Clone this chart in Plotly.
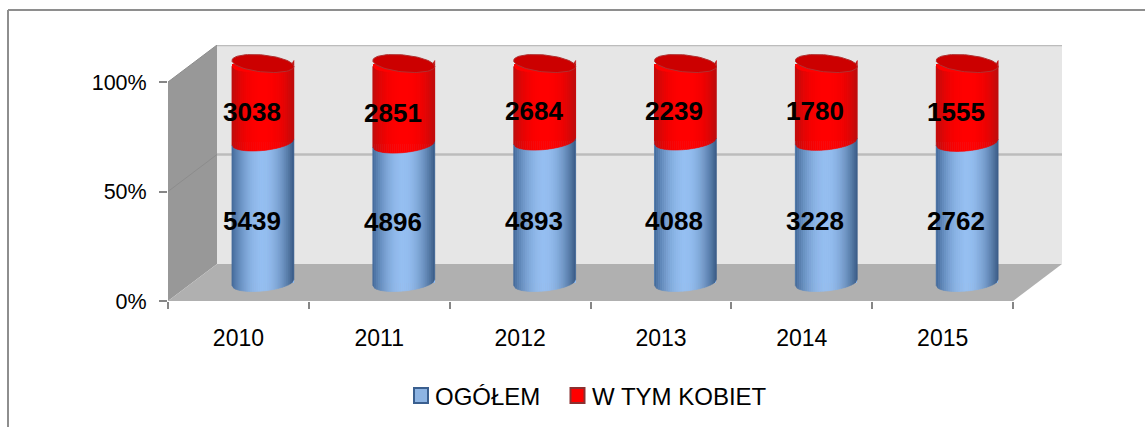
import numpy as np
import plotly.graph_objects as go

# ---- data ----
years = ["2010", "2011", "2012", "2013", "2014", "2015"]
ogolem = [5439, 4896, 4893, 4088, 3228, 2762]
kobiet = [3038, 2851, 2684, 2239, 1780, 1555]
y_ticks = [0, 50, 100]
series_names = ["OGÓŁEM", "W TYM KOBIET"]

# ---- pixel geometry of the plot box ----
W, H = 1145, 427
L, R, T, B = 168, 1062, 45, 301
PX_PER_CAT = 140.85
PX_PER_PCT = 2.19
DEPTH_PX_X, DEPTH_PX_Y = 49, 37
CYL_A = 31
CYL_B = 8.5
CYL_TILT = 3
FONT = "Liberation Sans"

x_span = (R - L) / PX_PER_CAT
y_span = (B - T) / PX_PER_PCT
xr = [-0.5, -0.5 + x_span]
yr = [0, y_span]
dx = DEPTH_PX_X / PX_PER_CAT
dy = DEPTH_PX_Y / PX_PER_PCT
x_end = len(years) - 0.5


def px(v):
    return (v - L) / (R - L)


def py(v):
    return (B - v) / (B - T)


def mix(c1, c2, t):
    return "rgb(%d,%d,%d)" % tuple(round(a + (b - a) * t) for a, b in zip(c1, c2))


def edge(u, sign=1):
    """vertical offset (in % units) of the ellipse rim at u in [-1, 1]"""
    return (-sign * CYL_B * np.sqrt(max(0.0, 1 - u * u)) + CYL_TILT * u) / PX_PER_PCT


fig = go.Figure()

# real stacked bars (covered by the shaded cylinders)
cats = list(range(len(years)))
fig.add_bar(x=cats, y=ogolem, name=series_names[0], xaxis="x2", yaxis="y2",
            width=2 * CYL_A / PX_PER_CAT, marker=dict(color="#94bdee", line=dict(width=0)),
            showlegend=False, hoverinfo="skip")
fig.add_bar(x=cats, y=kobiet, name=series_names[1], xaxis="x2", yaxis="y2",
            width=2 * CYL_A / PX_PER_CAT, marker=dict(color="#ff0000", line=dict(width=0)),
            showlegend=False, hoverinfo="skip")

totals = [a + b for a, b in zip(ogolem, kobiet)]
pct_blue = [100 * a / t for a, t in zip(ogolem, totals)]

N = 31
u_edges = np.linspace(-1, 1, N + 1)


def shade_blue(u):
    t = abs(u) ** 1.9
    return mix((150, 191, 241), (56, 90, 132) if u > 0 else (66, 104, 152), t)


def shade_red(u):
    t = abs(u) ** 2.6
    return mix((255, 0, 0), (186, 14, 14), t)


def add_bands(lows, highs, shader):
    for k in range(N):
        u0, u1 = u_edges[k], u_edges[k + 1]
        xs, ys = [], []
        for c, lo, hi in zip(cats, lows, highs):
            ca = c + u0 * CYL_A / PX_PER_CAT
            cb = c + u1 * CYL_A / PX_PER_CAT
            xs += [ca, cb, cb, ca, ca, None]
            ys += [hi + edge(u0), hi + edge(u1), lo + edge(u1), lo + edge(u0), hi + edge(u0), None]
        col = shader((u0 + u1) / 2)
        fig.add_trace(go.Scatter(x=xs, y=ys, mode="lines", fill="toself", fillcolor=col,
                                 line=dict(color=col, width=0.6), xaxis="x2", yaxis="y2",
                                 showlegend=False, hoverinfo="skip"))


add_bands([0] * len(cats), pct_blue, shade_blue)
add_bands(pct_blue, [100] * len(cats), shade_red)

# top caps of the cylinders
us = np.linspace(0, 2 * np.pi, 73)
cap_x, cap_y = [], []
for c in cats:
    for a in us:
        u = np.cos(a)
        cap_x.append(c + u * CYL_A / PX_PER_CAT)
        cap_y.append(100 + (CYL_B * np.sin(a) - CYL_TILT * u) / PX_PER_PCT)
    cap_x.append(None)
    cap_y.append(None)
fig.add_trace(go.Scatter(x=cap_x, y=cap_y, mode="lines", fill="toself", fillcolor="#cc0000",
                         line=dict(color="#b03030", width=1), xaxis="x2", yaxis="y2",
                         showlegend=False, hoverinfo="skip"))

# walls / floor
shapes = [
    dict(type="path", xref="x", yref="y", layer="below", line=dict(width=0), fillcolor="#e6e6e6",
         path=f"M{-0.5+dx},{dy} L{x_end+dx},{dy} L{x_end+dx},{100+dy} L{-0.5+dx},{100+dy} Z"),
    dict(type="path", xref="x", yref="y", layer="below", line=dict(width=0), fillcolor="#989898",
         path=f"M-0.5,0 L{-0.5+dx},{dy} L{-0.5+dx},{100+dy} L-0.5,100 Z"),
    dict(type="path", xref="x", yref="y", layer="below", line=dict(width=0), fillcolor="#b0b0b0",
         path=f"M-0.5,0 L{x_end},0 L{x_end+dx},{dy} L{-0.5+dx},{dy} Z"),
]
for v in y_ticks[1:]:
    shapes.append(dict(type="line", xref="x", yref="y", layer="below",
                       x0=-0.5 + dx, x1=x_end + dx, y0=v + dy, y1=v + dy,
                       line=dict(color="#bcbcbc", width=2.5)))
    shapes.append(dict(type="line", xref="x", yref="y", layer="below",
                       x0=-0.5, x1=-0.5 + dx, y0=v, y1=v + dy,
                       line=dict(color="#8c8c8c", width=1)))

# chart frame
FRAME = "#8e8e8e"
shapes.append(dict(type="line", xref="paper", yref="paper", x0=px(8), x1=px(W), y0=py(10), y1=py(10),
                   line=dict(color=FRAME, width=2)))
shapes.append(dict(type="line", xref="paper", yref="paper", x0=px(8), x1=px(8), y0=py(10), y1=py(H),
                   line=dict(color=FRAME, width=2)))

# legend keys
shapes.append(dict(type="rect", xref="paper", yref="paper", x0=px(414), x1=px(428), y0=py(388), y1=py(403),
                   fillcolor="#8db4e3", line=dict(color="#3a5f8f", width=2)))
shapes.append(dict(type="rect", xref="paper", yref="paper", x0=px(570.5), x1=px(584.5), y0=py(388), y1=py(403),
                   fillcolor="#ff0000", line=dict(color="#8c3030", width=2)))

annotations = []
label_font = dict(family=FONT, size=26, color="black", weight="bold")
for c in cats:
    p = pct_blue[c]
    annotations.append(dict(x=c, y=p / 2, xref="x2", yref="y2", text=str(ogolem[c]), showarrow=False,
                            xshift=-11, yshift=-9, font=label_font))
    annotations.append(dict(x=c, y=(p + 100) / 2, xref="x2", yref="y2", text=str(kobiet[c]), showarrow=False,
                            xshift=-11, yshift=-9, font=label_font))
leg_font = dict(family=FONT, size=24, color="black")
annotations.append(dict(x=px(433), y=py(396), xref="paper", yref="paper", text=series_names[0], showarrow=False,
                        xanchor="left", yanchor="middle", font=leg_font))
annotations.append(dict(x=px(590), y=py(396), xref="paper", yref="paper", text=series_names[1], showarrow=False,
                        xanchor="left", yanchor="middle", font=leg_font))

fig.update_layout(
    width=W, height=H, autosize=False,
    margin=dict(l=L, r=W - R, t=T, b=H - B, pad=0),
    paper_bgcolor="white", plot_bgcolor="rgba(0,0,0,0)",
    barmode="stack", barnorm="percent", showlegend=False,
    shapes=shapes, annotations=annotations,
    xaxis=dict(range=xr, tickmode="array", tickvals=cats, ticktext=years, ticks="", showgrid=False,
               zeroline=False, showline=False, tickfont=dict(family=FONT, size=23, color="black"),
               ticklabelstandoff=21,
               minor=dict(tickmode="array", tickvals=[c - 0.5 for c in cats] + [x_end], ticks="outside",
                          ticklen=7, tickcolor="#868686", tickwidth=1.5, showgrid=False)),
    yaxis=dict(range=yr, tickmode="array", tickvals=y_ticks, ticktext=[f"{v}%" for v in y_ticks],
               ticks="outside", ticklen=8, tickcolor="#868686", tickwidth=1.5, showgrid=False, zeroline=False,
               showline=False, tickfont=dict(family=FONT, size=21.5, color="black"), ticklabelstandoff=8),
    xaxis2=dict(range=[r - dx / 2 for r in xr], overlaying="x", visible=False, anchor="y2"),
    yaxis2=dict(range=[r - dy / 2 for r in yr], overlaying="y", visible=False, anchor="x2"),
)

fig.write_html("out.html", config=dict(displayModeBar=False),
               post_script="document.body.style.margin='0';document.documentElement.style.overflow='hidden';")
